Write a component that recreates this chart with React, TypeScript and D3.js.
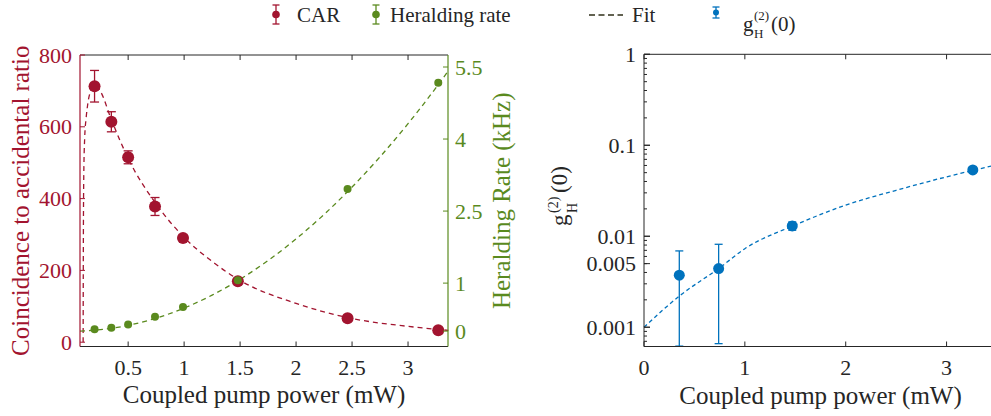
import React, { useEffect, useRef } from 'react';
import * as d3 from 'd3';

const W = 991;
const H = 416;
const RED = '#A2142F';
const GREEN = '#5A8A1E';
const BLUE = '#0072BD';
const INK = '#262626';
const FONT = 'Liberation Serif, Tinos, DejaVu Serif, serif';

// left panel: CAR and heralding rate vs coupled pump power (mW)
const power = [0.2, 0.35, 0.5, 0.74, 0.99, 1.48, 2.46, 3.27];
const carValues = [713, 614, 515, 378, 290, 170, 67, 33];
const carErrors = [44, 28, 18, 25, 8, 6, 5, 4];
const heraldRate = [0.04, 0.07, 0.14, 0.3, 0.5, 1.06, 2.96, 5.17];

// fit curves
const carFitX = [0.098, 0.1, 0.104, 0.112, 0.125, 0.14, 0.165, 0.2, 0.25, 0.35, 0.5, 0.75, 1, 1.25, 1.5, 2, 2.5, 3, 3.36];
const carFitY = [0, 280, 470, 570, 625, 665, 700, 716, 700, 620, 512, 385, 292, 225, 172, 108, 66, 44, 33];
const rateFitX = [0.07, 0.25, 0.5, 0.75, 1, 1.25, 1.5, 1.75, 2, 2.25, 2.5, 2.75, 3, 3.25, 3.36];
const rateFitY = [0.0, 0.03, 0.12, 0.27, 0.48, 0.75, 1.08, 1.47, 1.92, 2.43, 3.0, 3.63, 4.32, 5.07, 5.42];

const carTicks = [0, 200, 400, 600, 800];
const rateTicks = [0, 1, 2.5, 4, 5.5];
const leftPowerTicks = [0.5, 1, 1.5, 2, 2.5, 3];

// right panel: heralded g2(0)
const g2Power = [0.35, 0.74, 1.47, 3.26];
const g2Values = [0.00373, 0.00441, 0.013, 0.0536];
const g2Low = [0.00062, 0.00066, 0.01164, 0.0505];
const g2High = [0.0069, 0.00816, 0.01436, 0.0568];
const g2FitX = [0, 0.35, 0.75, 1, 1.5, 2, 2.5, 3, 3.5];
const g2FitY = [0.001, 0.0022, 0.0045, 0.0073, 0.0133, 0.022, 0.032, 0.045, 0.061];
const g2Ticks = [0.001, 0.005, 0.01, 0.1, 1];
const rightPowerTicks = [0, 1, 2, 3];

const App = () => {
  const svgRef = useRef<SVGSVGElement>(null);

  useEffect(() => {
    const svg = d3.select(svgRef.current);
    svg.selectAll('*').remove();

    const root = svg.append('g');

    // ---------- left panel ----------
    const L = { left: 80, right: 448, top: 55, bottom: 346.5 };
    const x1 = d3.scaleLinear().domain([0.07, 3.357]).range([L.left, L.right]);
    const yCar = d3.scaleLinear().domain([-12, 800]).range([L.bottom, L.top]);
    const yRate = d3.scaleLinear().domain([-0.32, 5.75]).range([L.bottom, L.top]);

    const g1 = root.append('g');

    // fits
    const carLine = d3.line<number>()
      .x((d, i) => x1(carFitX[i]))
      .y(d => yCar(d))
      .curve(d3.curveMonotoneX);
    g1.append('path')
      .attr('d', carLine(carFitY))
      .attr('fill', 'none')
      .attr('stroke', RED)
      .attr('stroke-width', 1.3)
      .attr('stroke-dasharray', '5,4');

    const rateLine = d3.line<number>()
      .x((d, i) => x1(rateFitX[i]))
      .y(d => yRate(d))
      .curve(d3.curveMonotoneX);
    g1.append('path')
      .attr('d', rateLine(rateFitY))
      .attr('fill', 'none')
      .attr('stroke', GREEN)
      .attr('stroke-width', 1.3)
      .attr('stroke-dasharray', '5,4');

    // CAR error bars + markers
    power.forEach((p, i) => {
      const cx = x1(p);
      const lo = yCar(carValues[i] - carErrors[i]);
      const hi = yCar(carValues[i] + carErrors[i]);
      g1.append('line').attr('x1', cx).attr('x2', cx).attr('y1', lo).attr('y2', hi)
        .attr('stroke', RED).attr('stroke-width', 1.3);
      [lo, hi].forEach(yy => {
        g1.append('line').attr('x1', cx - 4.5).attr('x2', cx + 4.5).attr('y1', yy).attr('y2', yy)
          .attr('stroke', RED).attr('stroke-width', 1.3);
      });
    });
    g1.selectAll('circle.car')
      .data(power)
      .join('circle')
      .attr('class', 'car')
      .attr('cx', d => x1(d))
      .attr('cy', (d, i) => yCar(carValues[i]))
      .attr('r', 6)
      .attr('fill', RED);

    g1.selectAll('circle.rate')
      .data(power)
      .join('circle')
      .attr('class', 'rate')
      .attr('cx', d => x1(d))
      .attr('cy', (d, i) => yRate(heraldRate[i]))
      .attr('r', 4)
      .attr('fill', GREEN);

    // frame and ticks
    g1.append('line').attr('x1', L.left).attr('x2', L.right).attr('y1', L.top).attr('y2', L.top)
      .attr('stroke', INK).attr('stroke-width', 1);
    g1.append('line').attr('x1', L.left).attr('x2', L.right).attr('y1', L.bottom).attr('y2', L.bottom)
      .attr('stroke', INK).attr('stroke-width', 1);
    g1.append('line').attr('x1', L.left).attr('x2', L.left).attr('y1', L.top).attr('y2', L.bottom)
      .attr('stroke', RED).attr('stroke-width', 1.2);
    g1.append('line').attr('x1', L.right).attr('x2', L.right).attr('y1', L.top).attr('y2', L.bottom)
      .attr('stroke', GREEN).attr('stroke-width', 1.2);

    leftPowerTicks.forEach(t => {
      const xx = x1(t);
      g1.append('line').attr('x1', xx).attr('x2', xx).attr('y1', L.bottom).attr('y2', L.bottom - 5)
        .attr('stroke', INK);
      g1.append('line').attr('x1', xx).attr('x2', xx).attr('y1', L.top).attr('y2', L.top + 5)
        .attr('stroke', INK);
      g1.append('text').attr('x', xx).attr('y', 375).attr('text-anchor', 'middle')
        .attr('font-size', 22).attr('fill', INK).text(d3.format('~g')(t));
    });
    carTicks.forEach(t => {
      const yy = yCar(t);
      g1.append('line').attr('x1', L.left).attr('x2', L.left + 5).attr('y1', yy).attr('y2', yy)
        .attr('stroke', RED);
      g1.append('text').attr('x', 72).attr('y', yy).attr('dy', '0.35em').attr('text-anchor', 'end')
        .attr('font-size', 22).attr('fill', RED).text(t);
    });
    rateTicks.forEach(t => {
      const yy = yRate(t);
      g1.append('line').attr('x1', L.right).attr('x2', L.right - 5).attr('y1', yy).attr('y2', yy)
        .attr('stroke', GREEN);
      g1.append('text').attr('x', 455).attr('y', yy).attr('dy', '0.35em').attr('text-anchor', 'start')
        .attr('font-size', 22).attr('fill', GREEN).text(t);
    });

    // axis labels
    g1.append('text').attr('x', (L.left + L.right) / 2).attr('y', 403).attr('text-anchor', 'middle')
      .attr('font-size', 25).attr('fill', INK).text('Coupled pump power (mW)');
    g1.append('text').attr('transform', `translate(29,${(L.top + L.bottom) / 2}) rotate(-90)`)
      .attr('text-anchor', 'middle').attr('font-size', 25).attr('fill', RED)
      .text('Coincidence to accidental ratio');
    g1.append('text').attr('transform', `translate(510,${(L.top + L.bottom) / 2}) rotate(-90)`)
      .attr('text-anchor', 'middle').attr('font-size', 25).attr('fill', GREEN)
      .text('Heralding Rate (kHz)');

    // ---------- right panel ----------
    const R = { left: 644, right: 997, top: 54.3, bottom: 346.5 };
    const x2 = d3.scaleLinear().domain([0, 3.5]).range([R.left, R.right]);
    const yG = d3.scaleLog().domain([0.000614, 1]).range([R.bottom, R.top]);
    const g2 = root.append('g');

    const g2Line = d3.line<number>()
      .x((d, i) => x2(g2FitX[i]))
      .y(d => yG(d))
      .curve(d3.curveMonotoneX);
    g2.append('path')
      .attr('d', g2Line(g2FitY))
      .attr('fill', 'none')
      .attr('stroke', BLUE)
      .attr('stroke-width', 1.3)
      .attr('stroke-dasharray', '4,3');

    g2Power.forEach((p, i) => {
      const cx = x2(p);
      const lo = yG(g2Low[i]);
      const hi = yG(g2High[i]);
      g2.append('line').attr('x1', cx).attr('x2', cx).attr('y1', lo).attr('y2', hi)
        .attr('stroke', BLUE).attr('stroke-width', 1.3);
      [lo, hi].forEach(yy => {
        g2.append('line').attr('x1', cx - 4).attr('x2', cx + 4).attr('y1', yy).attr('y2', yy)
          .attr('stroke', BLUE).attr('stroke-width', 1.3);
      });
    });
    g2.selectAll('circle.g2')
      .data(g2Power)
      .join('circle')
      .attr('class', 'g2')
      .attr('cx', d => x2(d))
      .attr('cy', (d, i) => yG(g2Values[i]))
      .attr('r', 5.5)
      .attr('fill', BLUE);

    g2.append('line').attr('x1', R.left).attr('x2', R.right).attr('y1', R.top).attr('y2', R.top)
      .attr('stroke', INK);
    g2.append('line').attr('x1', R.left).attr('x2', R.right).attr('y1', R.bottom).attr('y2', R.bottom)
      .attr('stroke', INK);
    g2.append('line').attr('x1', R.left).attr('x2', R.left).attr('y1', R.top).attr('y2', R.bottom)
      .attr('stroke', INK);

    rightPowerTicks.forEach(t => {
      const xx = x2(t);
      g2.append('line').attr('x1', xx).attr('x2', xx).attr('y1', R.bottom).attr('y2', R.bottom - 5)
        .attr('stroke', INK);
      g2.append('line').attr('x1', xx).attr('x2', xx).attr('y1', R.top).attr('y2', R.top + 5)
        .attr('stroke', INK);
      g2.append('text').attr('x', xx).attr('y', 375).attr('text-anchor', 'middle')
        .attr('font-size', 22).attr('fill', INK).text(t);
    });
    // minor log ticks
    yG.ticks().forEach(t => {
      if (t < yG.domain()[0] || t > 1) return;
      const major = Math.abs(Math.log10(t) - Math.round(Math.log10(t))) < 1e-6;
      const yy = yG(t);
      g2.append('line').attr('x1', R.left).attr('x2', R.left + (major ? 6 : 3)).attr('y1', yy).attr('y2', yy)
        .attr('stroke', INK);
    });
    g2Ticks.forEach(t => {
      const yy = yG(t);
      g2.append('line').attr('x1', R.left).attr('x2', R.left + 6).attr('y1', yy).attr('y2', yy)
        .attr('stroke', INK);
      g2.append('text').attr('x', 636).attr('y', yy).attr('dy', '0.35em').attr('text-anchor', 'end')
        .attr('font-size', 22).attr('fill', INK).text(t);
    });

    g2.append('text').attr('x', (R.left + R.right) / 2).attr('y', 404).attr('text-anchor', 'middle')
      .attr('font-size', 25).attr('fill', INK).text('Coupled pump power (mW)');

    // rotated g_H^(2)(0) label
    const gl = g2.append('g').attr('transform', 'translate(567,197) rotate(-90)')
      .attr('fill', INK);
    gl.append('text').attr('x', -29).attr('y', 0).attr('font-size', 23).text('g');
    gl.append('text').attr('x', -16).attr('y', -9).attr('font-size', 14).text('(2)');
    gl.append('text').attr('x', -16).attr('y', 10).attr('font-size', 14).text('H');
    gl.append('text').attr('x', 4).attr('y', 0).attr('font-size', 23).text('(0)');

    // ---------- legend ----------
    const leg = root.append('g');
    const legIcon = (cx: number, top: number, bottom: number, r: number, color: string) => {
      leg.append('line').attr('x1', cx).attr('x2', cx).attr('y1', top).attr('y2', bottom)
        .attr('stroke', color).attr('stroke-width', 1.3);
      [top, bottom].forEach(yy => {
        leg.append('line').attr('x1', cx - 3.5).attr('x2', cx + 3.5).attr('y1', yy).attr('y2', yy)
          .attr('stroke', color).attr('stroke-width', 1.3);
      });
      leg.append('circle').attr('cx', cx).attr('cy', (top + bottom) / 2).attr('r', r).attr('fill', color);
    };
    legIcon(276, 5, 24, 3.8, RED);
    leg.append('text').attr('x', 297).attr('y', 22).attr('font-size', 21).attr('fill', INK).text('CAR');
    legIcon(376, 5, 24, 3.8, GREEN);
    leg.append('text').attr('x', 390).attr('y', 22).attr('font-size', 21).attr('fill', INK).text('Heralding rate');
    leg.append('line').attr('x1', 589).attr('x2', 623).attr('y1', 15).attr('y2', 15)
      .attr('stroke', '#2f2f1a').attr('stroke-width', 1.3).attr('stroke-dasharray', '6,3.5');
    leg.append('text').attr('x', 632).attr('y', 22).attr('font-size', 21).attr('fill', INK).text('Fit');
    legIcon(716, 7, 18, 3, BLUE);
    leg.append('text').attr('x', 743).attr('y', 31).attr('font-size', 21).attr('fill', INK).text('g');
    leg.append('text').attr('x', 754).attr('y', 20).attr('font-size', 13).attr('fill', INK).text('(2)');
    leg.append('text').attr('x', 754).attr('y', 38).attr('font-size', 13).attr('fill', INK).text('H');
    leg.append('text').attr('x', 771).attr('y', 31).attr('font-size', 21).attr('fill', INK).text('(0)');

    // apply the serif family to every text directly
    svg.selectAll('text').style('font-family', FONT);
  }, []);

  return (
    <svg
      ref={svgRef}
      width={W}
      height={H}
      style={{ position: 'absolute', left: 0, top: 0, background: '#fff' }}
    />
  );
};

export default App;
